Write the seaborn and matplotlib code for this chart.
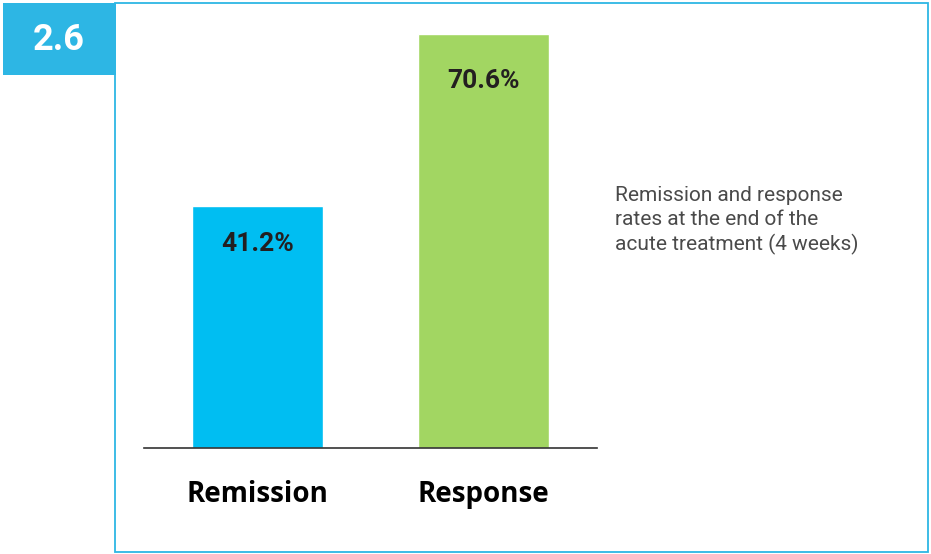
import matplotlib
matplotlib.use("Agg")
import matplotlib.pyplot as plt
from matplotlib.patches import Rectangle
import pandas as pd
import seaborn as sns

# ── Data ──────────────────────────────────────────────────────────────────────
categories = ["Remission", "Response"]
rates = [41.2, 70.6]
value_labels = ["41.2%", "70.6%"]
bar_colours = ["#00BEF2", "#A2D662"]
panel_number = "2.6"
caption = "Remission and response\nrates at the end of the\nacute treatment (4 weeks)"

FRAME_BLUE = "#2DB6E4"
DARK = "#231F20"

sns.set_style("white")
plt.rcParams["font.family"] = ["Roboto", "DejaVu Sans"]

df = pd.DataFrame({"category": categories, "rate": rates})

fig = plt.figure(figsize=(9.31, 5.54), dpi=100)
W, H = 931, 554

# outer frame + number tab
fig.patches.append(Rectangle((115 / W, 1 - 552 / H), (928 - 115) / W, (552 - 3) / H,
                             transform=fig.transFigure, fill=False,
                             edgecolor=FRAME_BLUE, linewidth=1.3, zorder=0))
fig.patches.append(Rectangle((3 / W, 1 - 75 / H), (116 - 3) / W, (75 - 3) / H,
                             transform=fig.transFigure, facecolor=FRAME_BLUE,
                             edgecolor="none", zorder=1))
fig.text(59 / W, 1 - 40 / H, panel_number, color="white", fontsize=26,
         fontweight="bold", ha="center", va="center")

# bars
ax = fig.add_axes([144 / W, 1 - 447.7 / H, 453 / W, 439.5 / H])
sns.barplot(data=df, x="category", y="rate", hue="category", palette=bar_colours,
            width=0.58, legend=False, ax=ax, saturation=1)
ax.set_xlim(-0.5, 1.5)
ax.set_ylim(0, 75)

# value labels inside the bars
offsets = [27.5, 34]
for i, (v, lab) in enumerate(zip(rates, value_labels)):
    ax.annotate(lab, (i, v), xytext=(0, -offsets[i]), textcoords="offset points",
                ha="center", va="center", fontsize=19, fontweight="bold", color=DARK)

for s in ["top", "right", "left"]:
    ax.spines[s].set_visible(False)
ax.spines["bottom"].set_color("#333333")
ax.spines["bottom"].set_linewidth(1.2)
ax.set_yticks([])
ax.set_xlabel("")
ax.set_ylabel("")
ax.tick_params(axis="x", length=0, pad=23)
ax.set_xticks(range(len(categories)))
ax.set_xticklabels(categories, fontsize=20, fontweight="bold", color="black",
                   fontfamily="Open Sans")

# caption on the right
fig.text(615 / W, 1 - 186 / H, caption, fontsize=15, color="#4A4A4A",
         fontweight="normal", ha="left", va="top", linespacing=1.33)

fig.savefig("out.png", dpi=100)
